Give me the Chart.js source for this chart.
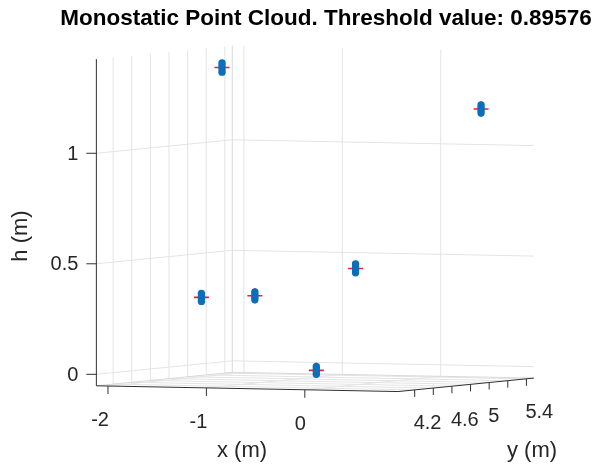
<!DOCTYPE html>
<html>
<head>
<meta charset="utf-8">
<script src="https://cdn.jsdelivr.net/npm/chart.js@4/dist/chart.umd.min.js"></script>
<style>
  html, body { margin: 0; padding: 0; background: #fff; }
  canvas { display: block; }
</style>
</head>
<body>
<canvas id="chart" width="600" height="466"></canvas>
<script>
// detected targets (red +)
let targetX = [-1.39, 0.58, -1.41, -1.34, -0.175, -0.81];
let targetY = [4.60, 5.30, 4.40, 4.90, 4.75, 5.00];
let targetH = [1.37, 1.17, 0.338, 0.325, 0.465, -0.012];

// point cloud (blue dots), four returns per target
let cloudX = [-1.39, -1.39, -1.39, -1.39,  0.58, 0.58, 0.58, 0.58,
              -1.41, -1.41, -1.41, -1.41, -1.34, -1.34, -1.34, -1.34,
              -0.175, -0.175, -0.175, -0.175, -0.81, -0.81, -0.81, -0.81];
let cloudY = [4.60, 4.60, 4.60, 4.60, 5.30, 5.30, 5.30, 5.30,
              4.40, 4.40, 4.40, 4.40, 4.90, 4.90, 4.90, 4.90,
              4.75, 4.75, 4.75, 4.75, 5.00, 5.00, 5.00, 5.00];
let cloudH = [1.349, 1.363, 1.377, 1.391, 1.152, 1.164, 1.176, 1.188,
              0.320, 0.332, 0.344, 0.356, 0.307, 0.319, 0.331, 0.343,
              0.445, 0.458, 0.472, 0.485, -0.030, -0.018, -0.006, 0.006];

// axes
let xTicks = [-2, -1, 0];
let yTicks = [4.2, 4.4, 4.6, 4.8, 5.0, 5.2, 5.4];
let yTickLabels = ['4.2', '', '4.6', '', '5', '', '5.4'];
let hTicks = [0, 0.5, 1];
let hTickLabels = ['0', '0.5', '1'];

let xLim = [-2.118, 0.946];
let yLim = [4.02, 5.48];
let hLim = [-0.052, 1.426];

// fixed 3-D view as a linear projection onto the view plane
function proj(x, y, h) {
  let a = x - xLim[0], b = y - yLim[0], c = h - hLim[0];
  return {
    x: 90 + a * 101.5 + b * 96,
    y: 392 + a * 1.96 - b * 9.6 - c * 230
  };
}

const FONT = '"Liberation Sans", Arial, Helvetica, sans-serif';

const box3d = {
  id: 'box3d',
  beforeDatasetsDraw(chart) {
    const ctx = chart.ctx;
    const sx = chart.scales.x, sy = chart.scales.y;
    const P = (x, y, h) => {
      const p = proj(x, y, h);
      return [sx.getPixelForValue(p.x), sy.getPixelForValue(p.y)];
    };
    const line = (a, b) => {
      ctx.beginPath();
      ctx.moveTo(a[0], a[1]);
      ctx.lineTo(b[0], b[1]);
      ctx.stroke();
    };
    ctx.save();

    // grid on the back walls and the floor
    ctx.strokeStyle = '#e4e4e4';
    ctx.lineWidth = 1;
    yTicks.forEach(y => {
      line(P(xLim[0], y, hLim[0]), P(xLim[0], y, hLim[1]));
      line(P(xLim[0], y, hLim[0]), P(xLim[1], y, hLim[0]));
    });
    xTicks.forEach(x => {
      line(P(x, yLim[1], hLim[0]), P(x, yLim[1], hLim[1]));
      line(P(x, yLim[0], hLim[0]), P(x, yLim[1], hLim[0]));
    });
    hTicks.forEach(h => {
      line(P(xLim[0], yLim[0], h), P(xLim[0], yLim[1], h));
      line(P(xLim[0], yLim[1], h), P(xLim[1], yLim[1], h));
    });
    // back box edges
    ctx.strokeStyle = '#d9d9d9';
    line(P(xLim[0], yLim[1], hLim[0]), P(xLim[0], yLim[1], hLim[1]));
    line(P(xLim[0], yLim[0], hLim[0]), P(xLim[0], yLim[1], hLim[0]));
    line(P(xLim[0], yLim[1], hLim[0]), P(xLim[1], yLim[1], hLim[0]));

    // axis lines
    ctx.strokeStyle = '#303030';
    line(P(xLim[0], yLim[0], hLim[0]), P(xLim[0], yLim[0], hLim[1]));
    line(P(xLim[0], yLim[0], hLim[0]), P(xLim[1], yLim[0], hLim[0]));
    line(P(xLim[1], yLim[0], hLim[0]), P(xLim[1], yLim[1], hLim[0]));

    ctx.fillStyle = '#262626';
    ctx.font = '20px ' + FONT;

    // h ticks
    ctx.textAlign = 'right';
    ctx.textBaseline = 'middle';
    hTicks.forEach((h, i) => {
      const p = P(xLim[0], yLim[0], h);
      line(p, [p[0] - 10, p[1]]);
      ctx.fillText(hTickLabels[i], p[0] - 18, p[1] + 1);
    });
    // x ticks
    xTicks.forEach(x => {
      const p = P(x, yLim[0], hLim[0]);
      line(p, [p[0], p[1] + 8]);
      ctx.fillText(String(x), p[0] + 1, p[1] + 34.5);
    });
    // y ticks
    ctx.textAlign = 'left';
    yTicks.forEach((y, i) => {
      const p = P(xLim[1], y, hLim[0]);
      line(p, [p[0], p[1] + 7]);
      if (yTickLabels[i]) ctx.fillText(yTickLabels[i], p[0] - 1, p[1] + 34);
    });

    // axis labels
    ctx.font = '22px ' + FONT;
    ctx.textAlign = 'center';
    ctx.fillText('x (m)', 242, 451);
    ctx.fillText('y (m)', 532, 451);
    ctx.save();
    ctx.translate(21, 236);
    ctx.rotate(-Math.PI / 2);
    ctx.fillText('h (m)', 0, 0);
    ctx.restore();

    // title
    ctx.font = 'bold 22.5px ' + FONT;
    ctx.fillStyle = '#000';
    ctx.fillText('Monostatic Point Cloud. Threshold value: 0.89576', 326, 19);

    ctx.restore();
  }
};

const cloudPts = cloudX.map((x, i) => proj(x, cloudY[i], cloudH[i]));
const targetPts = targetX.map((x, i) => proj(x, targetY[i], targetH[i]));

new Chart('chart', {
  type: 'scatter',
  data: {
    datasets: [{
      label: 'cloud',
      data: cloudPts,
      pointRadius: 3.7,
      pointBackgroundColor: '#0B6FBA',
      pointBorderColor: '#0B6FBA',
      pointBorderWidth: 0,
      clip: false
    }, {
      label: 'targets',
      data: targetPts,
      pointStyle: 'cross',
      pointRadius: 7.5,
      pointBorderColor: '#E8203A',
      pointBorderWidth: 1.6,
      clip: false
    }]
  },
  options: {
    responsive: false,
    animation: false,
    devicePixelRatio: 1,
    layout: { padding: 0 },
    plugins: {
      legend: { display: false },
      tooltip: { enabled: false }
    },
    scales: {
      x: { type: 'linear', min: 0, max: 600, display: false },
      y: { type: 'linear', min: 0, max: 466, reverse: true, display: false }
    }
  },
  plugins: [box3d]
});
</script>
</body>
</html>
